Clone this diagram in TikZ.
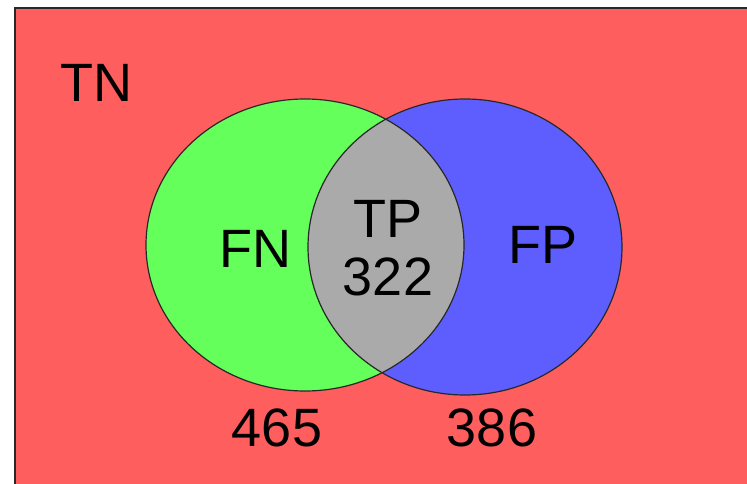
\documentclass[tikz,border=0pt]{standalone}
\usepackage{fontspec}
\setmainfont{Liberation Sans}
\usepackage{tikz}

\definecolor{tnred}{RGB}{255,94,94}
\definecolor{fngreen}{RGB}{100,255,90}
\definecolor{fpblue}{RGB}{94,94,255}
\definecolor{tpgray}{RGB}{170,170,170}
\definecolor{rim}{RGB}{40,40,40}

\begin{document}
\begin{tikzpicture}[x=1pt,y=-1pt]
            \tikzset{
                setrim/.style={draw=rim, line width=1.2pt},
                label/.style={inner sep=0pt, anchor=base, font=\fontsize{54}{60}\selectfont}
            }
            \clip (0,0) rectangle (747,484);
            % background
            \fill[white] (0,0) rectangle (747,484);
            \filldraw[fill=tnred, setrim] (15,8) rectangle (770,500);

            % sets
            \fill[fngreen] (305,245) ellipse [x radius=159, y radius=146];
            \fill[fpblue] (465,247) ellipse [x radius=157, y radius=148];
            \begin{scope}
                \clip (305,245) ellipse [x radius=159, y radius=146];
                \fill[tpgray] (465,247) ellipse [x radius=157, y radius=148];
            \end{scope}
            \draw[setrim] (305,245) ellipse [x radius=159, y radius=146];
            \draw[setrim] (465,247) ellipse [x radius=157, y radius=148];

            % labels
            \node[label] (tn) at (96,102) {TN};
            \node[label] (fn) at (255,267) {FN};
            \node[label] (tp) at (388,237) {TP};
            \node[label] (tpn) at (388,295) {322};
            \node[label] (fp) at (543,263) {FP};
            \node[label] (fnn) at (277,446) {465};
            \node[label] (fpn) at (492,446) {386};
\end{tikzpicture}
\end{document}
